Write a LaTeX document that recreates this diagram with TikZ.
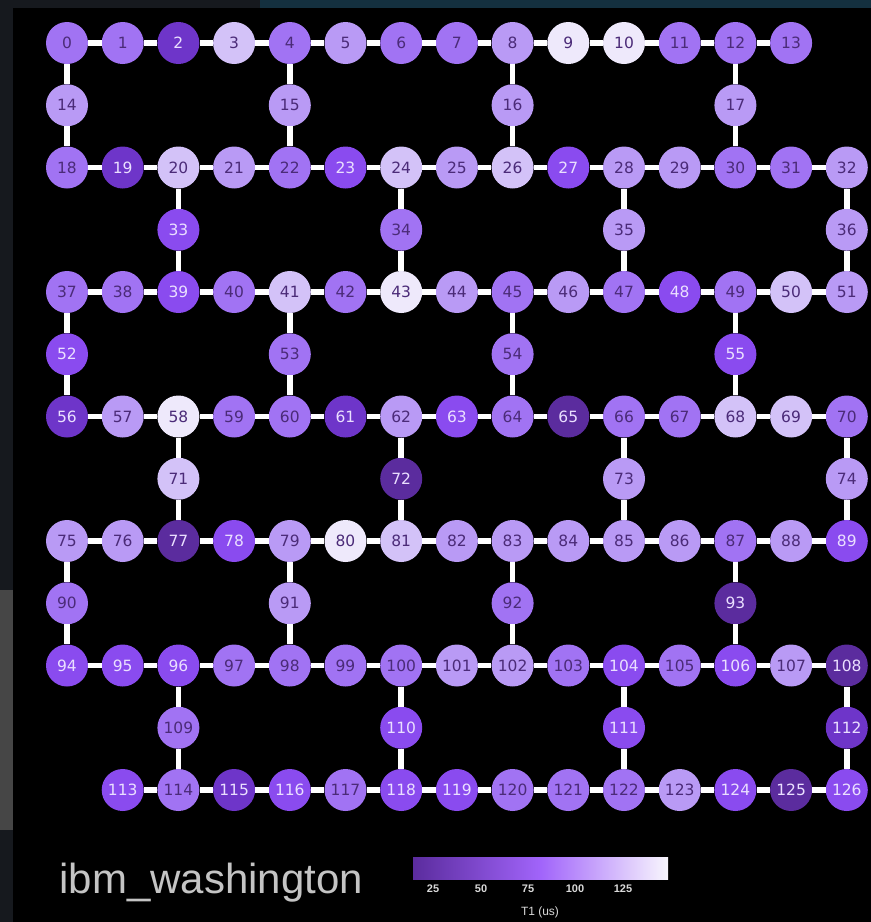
\documentclass[tikz,border=0pt]{standalone}
\usepackage{fontspec}
\setmainfont{DejaVu Sans}
\newfontfamily\titlefont{Liberation Sans}
\usepackage{tikz}
\usetikzlibrary{calc}
\definecolor{toneA}{HTML}{5B2C9E}
\definecolor{toneB}{HTML}{6E35C9}
\definecolor{toneC}{HTML}{8A4BEF}
\definecolor{toneD}{HTML}{A173F3}
\definecolor{toneE}{HTML}{B99AF5}
\definecolor{toneF}{HTML}{D3C2F8}
\definecolor{toneG}{HTML}{EEE9FB}
\definecolor{darklabel}{HTML}{4B2B78}
\definecolor{lightlabel}{HTML}{EADFFF}
\definecolor{titlegray}{HTML}{C4C4C4}
\definecolor{framegray}{HTML}{16191E}
\definecolor{framesky}{HTML}{14303F}
\definecolor{barmid}{HTML}{A164FA}

\tikzset{
  qubit/.style={circle, minimum size=42pt, inner sep=0pt, font=\fontsize{15.5}{15.5}\selectfont},
  tone0/.style={qubit, fill=toneA, text=lightlabel},
  tone1/.style={qubit, fill=toneB, text=lightlabel},
  tone2/.style={qubit, fill=toneC, text=lightlabel},
  tone3/.style={qubit, fill=toneD, text=darklabel},
  tone4/.style={qubit, fill=toneE, text=darklabel},
  tone5/.style={qubit, fill=toneF, text=darklabel},
  tone6/.style={qubit, fill=toneG, text=darklabel},
  link/.style={white, line width=5.5pt},
  ticklabel/.style={text=white!85!black, font=\titlefont\bfseries\fontsize{11}{11}\selectfont},
}

\begin{document}
\begin{tikzpicture}[x=1pt, y=-1pt]
          % Frame and backgrounds
          \useasboundingbox (0,0) rectangle (871,922);
          \fill[framegray] (0,0) rectangle (871,922);
          \fill[framesky] (260,0) rectangle (871,8);
          \fill[gray!55!black] (0,590) rectangle (13,830);
          \fill[black] (13,8) rectangle (871,922);
          % Qubits: id/column/row/tone
          \foreach \id/\c/\r/\lv in {
            0/0/0/3, 1/1/0/3, 2/2/0/1, 3/3/0/5, 4/4/0/3, 5/5/0/4, 6/6/0/3, 7/7/0/3,
            8/8/0/4, 9/9/0/6, 10/10/0/6, 11/11/0/3, 12/12/0/3, 13/13/0/3,
            14/0/1/4, 15/4/1/4, 16/8/1/4, 17/12/1/4,
            18/0/2/3, 19/1/2/1, 20/2/2/5, 21/3/2/4, 22/4/2/3, 23/5/2/2, 24/6/2/5, 25/7/2/4,
            26/8/2/5, 27/9/2/2, 28/10/2/4, 29/11/2/4, 30/12/2/3, 31/13/2/3, 32/14/2/4,
            33/2/3/2, 34/6/3/3, 35/10/3/4, 36/14/3/4,
            37/0/4/3, 38/1/4/3, 39/2/4/2, 40/3/4/3, 41/4/4/5, 42/5/4/3, 43/6/4/6, 44/7/4/4,
            45/8/4/3, 46/9/4/4, 47/10/4/3, 48/11/4/2, 49/12/4/3, 50/13/4/5, 51/14/4/4,
            52/0/5/2, 53/4/5/3, 54/8/5/3, 55/12/5/2,
            56/0/6/1, 57/1/6/4, 58/2/6/6, 59/3/6/3, 60/4/6/3, 61/5/6/1, 62/6/6/4, 63/7/6/2,
            64/8/6/3, 65/9/6/0, 66/10/6/3, 67/11/6/3, 68/12/6/5, 69/13/6/5, 70/14/6/3,
            71/2/7/5, 72/6/7/0, 73/10/7/4, 74/14/7/4,
            75/0/8/4, 76/1/8/4, 77/2/8/0, 78/3/8/2, 79/4/8/4, 80/5/8/6, 81/6/8/5, 82/7/8/4,
            83/8/8/4, 84/9/8/4, 85/10/8/4, 86/11/8/4, 87/12/8/3, 88/13/8/4, 89/14/8/2,
            90/0/9/3, 91/4/9/4, 92/8/9/3, 93/12/9/0,
            94/0/10/2, 95/1/10/2, 96/2/10/2, 97/3/10/3, 98/4/10/3, 99/5/10/3, 100/6/10/3,
            101/7/10/4, 102/8/10/4, 103/9/10/3, 104/10/10/2, 105/11/10/3, 106/12/10/2,
            107/13/10/4, 108/14/10/0,
            109/2/11/3, 110/6/11/2, 111/10/11/2, 112/14/11/1,
            113/1/12/2, 114/2/12/3, 115/3/12/1, 116/4/12/2, 117/5/12/3, 118/6/12/2,
            119/7/12/2, 120/8/12/3, 121/9/12/3, 122/10/12/3, 123/11/12/4, 124/12/12/2,
            125/13/12/0, 126/14/12/2}
            \node[tone\lv] (q\id) at ({67+55.7*\c}, {43+62.25*\r}) {\id};
          % Couplers along the rows
          \foreach \first/\last in {0/13, 18/32, 37/51, 56/70, 75/89, 94/108, 113/126} {
            \pgfmathtruncatemacro\stop{\last-1}
            \foreach \i in {\first,...,\stop} {
              \pgfmathtruncatemacro\j{\i+1}
              \draw[link] (q\i) -- (q\j);
            }
          }
          % Couplers through the bridge qubits
          \foreach \b/\u/\d in {14/0/18, 15/4/22, 16/8/26, 17/12/30,
                                33/20/39, 34/24/43, 35/28/47, 36/32/51,
                                52/37/56, 53/41/60, 54/45/64, 55/49/68,
                                71/58/77, 72/62/81, 73/66/85, 74/70/89,
                                90/75/94, 91/79/98, 92/83/102, 93/87/106,
                                109/96/114, 110/100/118, 111/104/122, 112/108/126}
            \draw[link] (q\u) -- (q\b) -- (q\d);
          % Device name
          \node[anchor=base west, text=titlegray, font=\titlefont\fontsize{42}{42}\selectfont] (title) at (56,893) {ibm\_washington};
          % Colour bar
          \node[minimum width=255pt, minimum height=22pt, inner sep=0pt,
                left color=toneA, right color=toneG!40!white, middle color=barmid] (bar) at (540.5,868) {};
          \foreach \v/\x in {25/433, 50/481, 75/528, 100/575, 125/623}
            \node[ticklabel] (tick\v) at (\x,889) {\v};
          \node[ticklabel, font=\titlefont\fontsize{12}{12}\selectfont] (barlabel) at (540,912) {T1 (us)};
        \end{tikzpicture}
\end{document}
